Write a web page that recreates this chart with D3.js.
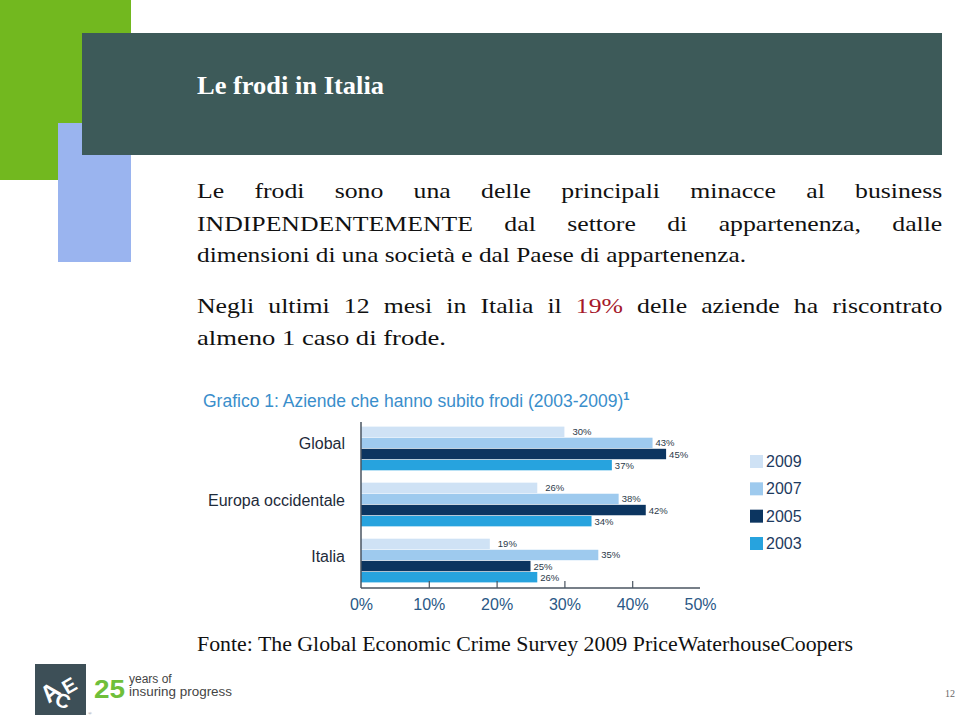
<!DOCTYPE html>
<html>
<head>
<meta charset="utf-8">
<script src="https://cdn.jsdelivr.net/npm/d3@7"></script>
<style>
html,body{margin:0;padding:0;background:#fff;}
#page{position:relative;width:960px;height:719px;overflow:hidden;}
svg{position:absolute;left:0;top:0;}
.jl{position:absolute;left:197px;width:637px;font-family:"Liberation Serif","Times New Roman",serif;font-size:22px;color:#111;line-height:1;
  text-align:justify;text-align-last:justify;transform:scaleX(1.17);transform-origin:0 0;}
</style>
</head>
<body>
<div id="page"></div>
<script>
// ---- data ----
const categories = ["Global", "Europa occidentale", "Italia"];
const years = ["2009", "2007", "2005", "2003"];
const values2009 = [30, 26, 19];
const values2007 = [43, 38, 35];
const values2005 = [45, 42, 25];
const values2003 = [37, 34, 26];
const tickValues = [0, 10, 20, 30, 40, 50];
const colors = ["#cfe2f5", "#9ecaee", "#0c3560", "#27a3de"];

const seriesValues = [values2009, values2007, values2005, values2003];

const page = d3.select("#page");
const W = 960, H = 719;
const svg = page.append("svg").attr("width", W).attr("height", H);

// decorative blocks
svg.append("rect").attr("x",0).attr("y",0).attr("width",131).attr("height",180).attr("fill","#72b81f");
svg.append("rect").attr("x",58).attr("y",123).attr("width",73).attr("height",139).attr("fill","#9ab4ef");
svg.append("rect").attr("x",82).attr("y",33).attr("width",860).attr("height",122).attr("fill","#3d5a59");
svg.append("text").attr("x",197).attr("y",94)
  .attr("font-family","'Liberation Serif',serif").attr("font-weight","bold")
  .attr("font-size",25).attr("fill","#fff")
  .attr("textLength",187).attr("lengthAdjust","spacingAndGlyphs").text("Le frodi in Italia");

// body text: justified lines (HTML) and free lines (SVG)
function jline(top, html){
  page.append("div").attr("class","jl").style("top",top+"px").html(html);
}
function sline(base, txt, len){
  svg.append("text").attr("x",197).attr("y",base)
    .attr("font-family","'Liberation Serif',serif").attr("font-size",22).attr("fill","#111")
    .attr("textLength",len).attr("lengthAdjust","spacingAndGlyphs").text(txt);
}
jline(180, "Le frodi sono una delle principali minacce al business");
jline(213, "INDIPENDENTEMENTE dal settore di appartenenza, dalle");
sline(262, "dimensioni di una società e dal Paese di appartenenza.", 549);
jline(295, 'Negli ultimi 12 mesi in Italia il <span style="color:#a5182b">19%</span> delle aziende ha riscontrato');
sline(345, "almeno 1 caso di frode.", 249);

// chart title
const ct = svg.append("text").attr("x",203).attr("y",407)
  .attr("font-family","'Liberation Sans',Arial,sans-serif").attr("font-size",17.5).attr("fill","#3a8ecb");
ct.append("tspan").text("Grafico 1: Aziende che hanno subito frodi (2003-2009)");
ct.append("tspan").attr("dy",-7).attr("font-size",11).attr("font-weight","bold").text("1");

// scales
const x = d3.scaleLinear().domain([0,50]).range([361,700]);
const y = d3.scaleBand().domain(categories).range([421,588]).paddingInner(0.22).paddingOuter(0.1);
const ySub = d3.scaleBand().domain(years).range([0,y.bandwidth()]).paddingInner(0.06);

const g = svg.append("g");
categories.forEach((c,ci)=>{
  years.forEach((yr,yi)=>{
    const v = seriesValues[yi][ci];
    g.append("rect").attr("x",x(0)).attr("y",y(c)+ySub(yr))
      .attr("width",x(v)-x(0)).attr("height",ySub.bandwidth()).attr("fill",colors[yi]);
    g.append("text").attr("x",x(v)+ (yi===0?8:3)).attr("y",y(c)+ySub(yr)+ySub.bandwidth()/2+3.5)
      .attr("font-family","'Liberation Sans',Arial,sans-serif").attr("font-size",9.5)
      .attr("fill","#2b3a4a").text(v+"%");
  });
  g.append("text").attr("x",345).attr("y",y(c)+y.bandwidth()/2+1)
    .attr("text-anchor","end").attr("font-family","'Liberation Sans',Arial,sans-serif")
    .attr("font-size",16).attr("fill","#1e2b3a").text(c);
});

// axis
const axis = d3.axisBottom(x).tickValues(tickValues).tickSizeInner(-7).tickSizeOuter(0)
  .tickFormat(d=>d+"%");
const ag = svg.append("g").attr("transform","translate(0,588)").call(axis);
ag.select(".domain").attr("stroke","#4a5560").attr("stroke-width",1.5);
ag.selectAll(".tick line").attr("stroke","#4a5560").attr("stroke-width",1.2);
ag.selectAll(".tick text").attr("y",11).attr("dy","0.71em")
  .attr("font-family","'Liberation Sans',Arial,sans-serif").attr("font-size",16)
  .attr("fill","#2a5886");
ag.selectAll(".tick").filter(d=>d===0 || d===50).select("line").remove();
ag.select(".domain").attr("d","M"+x(0)+",0H"+x(50));
svg.append("line").attr("x1",x(0)).attr("x2",x(0)).attr("y1",422).attr("y2",588)
  .attr("stroke","#4a5560").attr("stroke-width",1.5);

// legend
const legY = d3.scalePoint().domain(years).range([461,543]);
years.forEach((yr,i)=>{
  svg.append("rect").attr("x",750).attr("y",legY(yr)-6).attr("width",13).attr("height",13).attr("fill",colors[i]);
  svg.append("text").attr("x",766).attr("y",legY(yr)+6).attr("font-family","'Liberation Sans',Arial,sans-serif")
    .attr("font-size",16).attr("fill","#1d3a5e").text(yr);
});

// source
svg.append("text").attr("x",197).attr("y",651)
  .attr("font-family","'Liberation Serif',serif").attr("font-size",20).attr("fill","#111")
  .attr("textLength",656).attr("lengthAdjust","spacingAndGlyphs")
  .text("Fonte: The Global Economic Crime Survey 2009 PriceWaterhouseCoopers");

// logo
svg.append("rect").attr("x",35).attr("y",664).attr("width",51).attr("height",51).attr("fill","#3d4f57");
const lg = svg.append("g").attr("font-family","'Liberation Sans',Arial,sans-serif").attr("font-weight","bold").attr("fill","#fff");
lg.append("text").attr("x",40).attr("y",700).attr("font-size",24).attr("transform","rotate(-40,50,690)").text("A");
lg.append("text").attr("x",56).attr("y",708).attr("font-size",20).attr("transform","rotate(20,64,700)").text("C");
lg.append("text").attr("x",62).attr("y",692).attr("font-size",20).attr("transform","rotate(-30,70,684)").text("E");
svg.append("text").attr("x",88).attr("y",715).attr("font-size",5).attr("fill","#777").text("®");
svg.append("text").attr("x",94).attr("y",698).attr("font-family","'Liberation Sans',Arial,sans-serif")
  .attr("font-weight","bold").attr("font-size",26).attr("fill","#6fbf3a")
  .attr("textLength",31).attr("lengthAdjust","spacingAndGlyphs").text("25");
svg.append("text").attr("x",129).attr("y",683).attr("font-family","'Liberation Sans',Arial,sans-serif")
  .attr("font-size",12).attr("fill","#444").text("years of");
svg.append("text").attr("x",129).attr("y",696).attr("font-family","'Liberation Sans',Arial,sans-serif")
  .attr("font-size",12).attr("fill","#444").attr("textLength",103).attr("lengthAdjust","spacingAndGlyphs").text("insuring progress");
svg.append("text").attr("x",945).attr("y",697).attr("font-family","'Liberation Serif',serif")
  .attr("font-size",10).attr("fill","#666").text("12");
</script>
</body>
</html>
